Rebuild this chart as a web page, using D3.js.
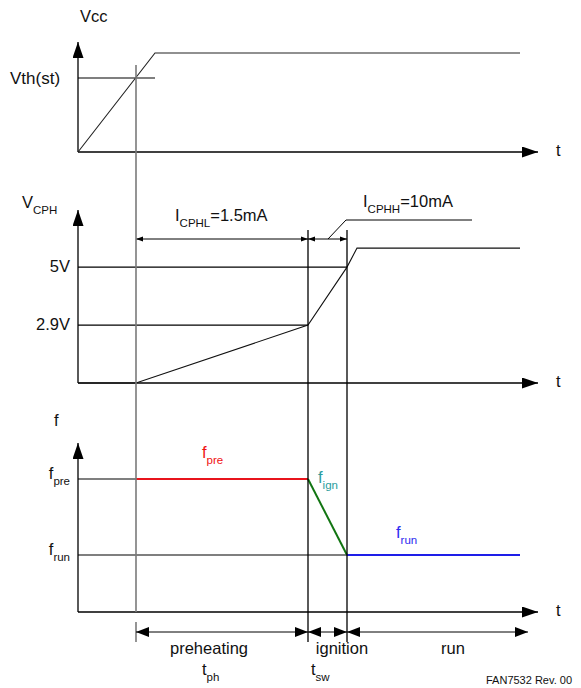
<!DOCTYPE html>
<html>
<head>
<meta charset="utf-8">
<script src="https://cdnjs.cloudflare.com/ajax/libs/d3/7.8.5/d3.min.js"></script>
<style>
  body { margin: 0; background: #fff; }
  svg text { font-family: "Liberation Sans", Arial, sans-serif; }
</style>
</head>
<body>
<div id="container"></div>
<script>
// time is in arbitrary units, shared by the three traces
const tOn = 58;       // Vcc crosses Vth(st)
const tPreEnd = 230;  // end of preheating
const tIgnEnd = 269;  // end of ignition
const tStop = 442;    // traces stop here
const tAxisEnd = 460;

const phaseStarts = [tOn, tPreEnd, tIgnEnd];
const phaseEnds = [tPreEnd, tIgnEnd, 450];
const phaseNames = ["preheating", "ignition", "run"];
const phaseSymbols = [["t", "ph"], ["t", "sw"], null];

// Vcc trace
const vthLevel = 7.4;
const vccTimes = [0, 77, tStop];
const vccValues = [0, 9.9, 9.9];

// CPH pin voltage trace
const cphTimes = [0, tOn, tPreEnd, tIgnEnd, 279, tStop];
const cphValues = [0.8, 0.8, 2.9, 5, 5.69, 5.69];
const cphLevels = [5, 2.9];
const cphLevelLabels = ["5V", "2.9V"];
const cphCurrents = [["I", "CPHL", "=1.5mA"], ["I", "CPHH", "=10mA"]];

// switching frequency trace
const fPre = 105;
const fRun = 45;
const freqNames = ["pre", "ign", "run"];
const freqTimes = [[tOn, tPreEnd], [tPreEnd, tIgnEnd], [tIgnEnd, tStop]];
const freqValues = [[fPre, fPre], [fPre, fRun], [fRun, fRun]];
const freqLevels = [fPre, fRun];
const freqLevelNames = ["pre", "run"];

const lineColors = ["#e8141c", "#127512", "#1e1ee8"];
const labelColors = ["#f01010", "#2a9d9d", "#2a2af0"];

const w = 581;
const h = 688;

const x = d3.scaleLinear().domain([0, tAxisEnd]).range([78, 538]);
const yVcc = d3.scaleLinear().domain([0, 11]).range([152, 42]);
const yCph = d3.scaleLinear().domain([0.8, 7.07]).range([383, 210]);
const yF = d3.scaleLinear().domain([0, 133.4]).range([612, 443]);

const svg = d3.select("#container")
  .append("svg")
  .attr("width", w)
  .attr("height", h);

const defs = svg.append("defs");
const addHead = (id, len, half) => {
  defs.append("marker")
    .attr("id", id)
    .attr("markerUnits", "userSpaceOnUse")
    .attr("markerWidth", len)
    .attr("markerHeight", half * 2)
    .attr("refX", len)
    .attr("refY", half)
    .attr("orient", "auto-start-reverse")
    .append("path")
    .attr("d", `M0,0L${len},${half}L0,${half * 2}Z`)
    .attr("fill", "#000");
};
addHead("axisHead", 16, 5.5);
addHead("smallHead", 7, 2.6);
addHead("bigHead", 13, 5);

const seg = (x1, y1, x2, y2, stroke, width) => svg.append("line")
  .attr("x1", x1).attr("y1", y1).attr("x2", x2).attr("y2", y2)
  .attr("stroke", stroke || "#000")
  .attr("stroke-width", width || 1.2);

const label = (px, py, main, sub, rest, opts) => {
  opts = opts || {};
  const size = opts.size || 16.5;
  const t = svg.append("text")
    .attr("x", px).attr("y", py)
    .attr("font-size", size)
    .attr("text-anchor", opts.anchor || "start")
    .style("fill", opts.color || "#111");
  t.append("tspan").text(main);
  if (sub) {
    t.append("tspan").attr("font-size", opts.subSize || 11.5).attr("dy", 6).text(sub);
  }
  if (rest) {
    t.append("tspan").attr("dy", -6).text(rest);
  }
  return t;
};

const line = (xs, ys, yScale) => d3.line()
  .x((d, i) => x(xs[i]))
  .y(d => yScale(d))(ys);

// axes for the three panels
[[yVcc, 0, 11], [yCph, 0.8, 7.07], [yF, 0, 133.4]].forEach(([ys, lo, hi]) => {
  seg(x(0), ys(lo), x(0), ys(hi), "#000", 1.3).attr("marker-end", "url(#axisHead)");
  seg(x(0), ys(lo), x(tAxisEnd), ys(lo), "#000", 1.3).attr("marker-end", "url(#axisHead)");
  label(x(tAxisEnd) + 18, ys(lo) + 4, "t");
});

// --- Vcc ---
label(80, 22, "Vcc");
label(10, 84, "Vth(st)", null, null, { size: 17 });
seg(x(0), yVcc(vthLevel), x(77), yVcc(vthLevel));
svg.append("path")
  .attr("d", line(vccTimes, vccValues, yVcc))
  .attr("fill", "none").attr("stroke", "#222").attr("stroke-width", 1.1);

// --- V_CPH ---
label(22, 208, "V", "CPH");
cphLevels.forEach((v, i) => {
  label(70, yCph(v) + 5, cphLevelLabels[i], null, null, { anchor: "end" });
  const tEnd = cphTimes[cphValues.indexOf(v)];
  seg(x(0), yCph(v), i === 0 ? x(tIgnEnd) : x(tEnd), yCph(v));
});
svg.append("path")
  .attr("d", line(cphTimes, cphValues, yCph))
  .attr("fill", "none").attr("stroke", "#111").attr("stroke-width", 1.1);

// charge current dimensions
const dimY1 = 239;
seg(x(tOn), dimY1, x(tPreEnd), dimY1, "#000", 1)
  .attr("marker-start", "url(#smallHead)").attr("marker-end", "url(#smallHead)");
seg(x(tPreEnd), dimY1, x(tIgnEnd), dimY1, "#000", 1)
  .attr("marker-start", "url(#smallHead)").attr("marker-end", "url(#smallHead)");
label(175, 221, ...cphCurrents[0]);
svg.append("path")
  .attr("d", `M${x(tPreEnd) + 20},${dimY1}L${x(tIgnEnd) - 1},220L472,220`)
  .attr("fill", "none").attr("stroke", "#000").attr("stroke-width", 1);
label(363, 207, ...cphCurrents[1]);

// --- f ---
label(54, 426, "f");
freqLevels.forEach((v, i) => {
  label(70, yF(v), "f", freqLevelNames[i], null, { anchor: "end" });
  seg(x(0), yF(v), x(i === 0 ? tOn : tIgnEnd), yF(v));
});
freqTimes.forEach((ts, i) => {
  svg.append("path")
    .attr("d", line(ts, freqValues[i], yF))
    .attr("fill", "none")
    .attr("stroke", lineColors[i])
    .attr("stroke-width", 2);
});
label(x(tOn) + 66, yF(fPre) - 21, "f", freqNames[0], null, { color: labelColors[0] });
label(x(tPreEnd) + 10, yF(fPre) + 4, "f", freqNames[1], null, { color: labelColors[1] });
label(x(tIgnEnd) + 49, yF(fRun) - 17, "f", freqNames[2], null, { color: labelColors[2] });

// phase boundaries
const dimY2 = 632;
seg(x(tOn), yVcc(8.7), x(tOn), yF(0), "#7a7a7a", 1.6);
seg(x(tOn), dimY2 - 10, x(tOn), dimY2 + 10, "#7a7a7a", 1.6);
[tPreEnd, tIgnEnd].forEach(t => seg(x(t), 230, x(t), dimY2 + 10, "#000", 1.3));

// phase dimensions along the bottom
phaseStarts.forEach((t, i) => {
  seg(x(t), dimY2, x(phaseEnds[i]), dimY2, "#000", 1)
    .attr("marker-start", "url(#bigHead)").attr("marker-end", "url(#bigHead)");
});
const phaseCenters = [209, 342, 453];
phaseNames.forEach((n, i) => {
  label(phaseCenters[i], 654, n, null, null, { anchor: "middle" });
  if (phaseSymbols[i]) {
    label(x(phaseStarts[i]) - (i === 0 ? -66 : -3), 675, phaseSymbols[i][0], phaseSymbols[i][1]);
  }
});

label(572, 684, "FAN7532 Rev. 00", null, null, { anchor: "end", size: 11 });
</script>
</body>
</html>
